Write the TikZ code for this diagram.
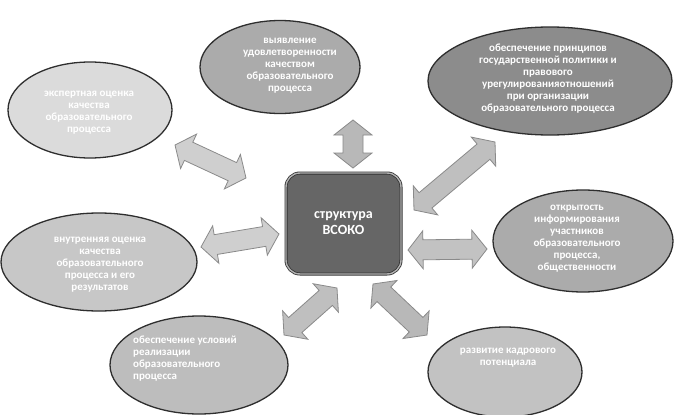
\documentclass[tikz,border=0pt]{standalone}
\usepackage{fontspec}
\setmainfont{Carlito}
\usetikzlibrary{shapes.geometric,calc}
\definecolor{eline}{HTML}{2E2E2E}
\definecolor{arrfill}{HTML}{CFCFCF}
\definecolor{arrline}{HTML}{8A8A8A}
\tikzset{
  oval/.style={ellipse, draw=eline, line width=1.3pt, inner sep=0pt},
  ovaltext/.style={text=white, font=\bfseries\fontsize{11}{12}\selectfont, align=center, inner sep=0pt},
  centerbox/.style={rectangle, rounded corners=14pt, fill=black!60, draw=black!80, line width=0.8pt,
    double=black!30, double distance=1.4pt, minimum width=115pt, minimum height=101pt,
    text=white, font=\bfseries\fontsize{14}{16}\selectfont, align=center},
  blockarrow/.style={fill=arrfill, draw=arrline, line width=0.8pt, line join=miter},
}
\newcommand{\dblarrow}[3][blockarrow]{%
  \path (#2) coordinate (dA) (#3) coordinate (dB);
  \path ($(dA)!15pt!(dB)$) coordinate (hA) ($(dB)!15pt!(dA)$) coordinate (hB);
  \draw[#1] (dA) -- ($(hA)!19pt!90:(dB)$) -- ($(hA)!10pt!90:(dB)$)
    -- ($(hB)!10pt!-90:(dA)$) -- ($(hB)!19pt!-90:(dA)$) -- (dB)
    -- ($(hB)!19pt!90:(dA)$) -- ($(hB)!10pt!90:(dA)$)
    -- ($(hA)!10pt!-90:(dB)$) -- ($(hA)!19pt!-90:(dB)$) -- cycle;}
\begin{document}
\begin{tikzpicture}[x=1pt,y=-1pt]
\useasboundingbox (0,0) rectangle (675,415);
\fill[white] (0,0) rectangle (675,415);

% ovals
\node[oval, fill=black!14, minimum width=164pt, minimum height=96pt] (e1) at (90,110) {};
\node[oval, fill=black!33, minimum width=160pt, minimum height=93pt] (e2) at (280,67) {};
\node[oval, fill=black!45, minimum width=244pt, minimum height=108pt] (e3) at (550,81) {};
\node[oval, fill=black!22, minimum width=196pt, minimum height=98pt] (e4) at (99,262) {};
\node[oval, fill=black!33, minimum width=180pt, minimum height=102pt] (e5) at (583,241) {};
\node[oval, fill=black!26, minimum width=178pt, minimum height=98pt] (e6) at (199,365) {};
\node[oval, fill=black!24, minimum width=154pt, minimum height=90pt] (e7) at (505,372) {};

% texts
\node[ovaltext] (t1) at (89,113) {экспертная оценка\\качества\\образовательного\\процесса};
\node[ovaltext] (t2) at (290,66) {выявление\\удовлетворенности\\качеством\\образовательного\\процесса};
\node[ovaltext] (t3) at (548,79) {обеспечение принципов\\государственной политики и\\правового\\урегулированияотношений\\при организации\\образовательного процесса};
\node[ovaltext] (t4) at (100,265) {внутренняя оценка\\качества\\образовательного\\процесса и его\\результатов};
\node[ovaltext] (t5) at (577,239) {открытость\\информирования\\участников\\образовательного\\процесса,\\общественности};
\node[ovaltext, align=left, anchor=west] (t6) at (133,359) {обеспечение условий\\реализации\\образовательного\\процесса};
\node[ovaltext] (t7) at (508,358) {развитие кадрового\\потенциала};

% center
\node[centerbox] (c) at (343.5,223.5) {структура\\ВСОКО};

% arrow end points
\coordinate (a1s) at (175,145); \coordinate (a1e) at (246,178);
\coordinate (a2s) at (353,120); \coordinate (a2e) at (353,168);
\coordinate (a3s) at (414,210); \coordinate (a3e) at (495,142);
\coordinate (a4s) at (201,247); \coordinate (a4e) at (279,234);
\coordinate (a5s) at (408,250); \coordinate (a5e) at (487,249);
\coordinate (a6s) at (284,335); \coordinate (a6e) at (337,288);
\coordinate (a7s) at (373,284); \coordinate (a7e) at (427,335);

\dblarrow{a1s}{a1e}
\dblarrow[blockarrow, fill=black!28]{a2s}{a2e}
\dblarrow[blockarrow, fill=black!25]{a3s}{a3e}
\dblarrow{a4s}{a4e}
\dblarrow[blockarrow, fill=black!24]{a5s}{a5e}
\dblarrow[blockarrow, fill=black!25]{a6s}{a6e}
\dblarrow[blockarrow, fill=black!28]{a7s}{a7e}
\end{tikzpicture}
\end{document}
